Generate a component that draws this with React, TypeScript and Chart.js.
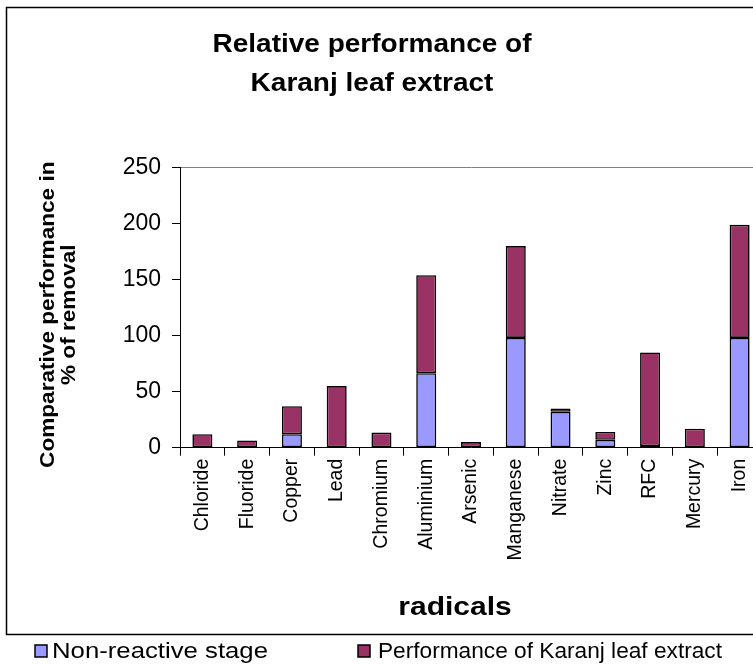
import React, { useEffect, useRef } from 'react';
import { Chart, registerables } from 'chart.js';

Chart.register(...registerables);

const categories = ['Chloride', 'Fluoride', 'Copper', 'Lead', 'Chromium', 'Aluminium', 'Arsenic', 'Manganese', 'Nitrate', 'Zinc', 'RFC', 'Mercury', 'Iron'];
const nonReactive = [0, 0, 12, 0, 0, 66.5, 0, 98, 32, 7, 1.5, 0, 98];
const karanjExtract = [12, 6.5, 25, 55, 13.5, 87.5, 5, 82, 3, 7, 83.5, 17, 101];
const yTicks = [0, 50, 100, 150, 200, 250];
const seriesLabels = ['Non-reactive stage', 'Performance of Karanj leaf extract'];
const seriesColors = ['#9999FF', '#993366'];
const titleLines = ['Relative performance of', 'Karanj leaf extract'];
const yTitleLines = ['Comparative performance in', '% of removal'];
const xTitle = 'radicals';

const FONT = 'Arial, "Liberation Sans", Helvetica, sans-serif';
const CANVAS_W = 800;
const CANVAS_H = 665;

function stretchedText(ctx: CanvasRenderingContext2D, text: string, x: number, y: number, sx: number, rot: number) {
  ctx.save();
  ctx.translate(x, y);
  ctx.rotate(rot);
  ctx.scale(sx, 1);
  ctx.fillText(text, 0, 0);
  ctx.restore();
}

const framePlugin = {
  id: 'frame',
  beforeDraw(chart: any) {
    const ctx = chart.ctx;
    ctx.save();
    ctx.fillStyle = '#fff';
    ctx.fillRect(0, 0, chart.width, chart.height);
    ctx.strokeStyle = '#000';
    ctx.lineWidth = 1.5;
    ctx.beginPath();
    ctx.moveTo(chart.width + 5, 7.5);
    ctx.lineTo(6.5, 7.5);
    ctx.lineTo(6.5, 634.5);
    ctx.lineTo(chart.width + 5, 634.5);
    ctx.stroke();
    ctx.restore();
  },
};

const textPlugin = {
  id: 'texts',
  afterDraw(chart: any) {
    const ctx: CanvasRenderingContext2D = chart.ctx;
    const area = chart.chartArea;
    ctx.save();
    ctx.fillStyle = '#000';
    // chart title
    ctx.font = `bold 25px ${FONT}`;
    ctx.textAlign = 'center';
    ctx.textBaseline = 'alphabetic';
    titleLines.forEach((line, i) => stretchedText(ctx, line, 372, 52 + i * 38.5, 1.12, 0));
    // y axis title
    ctx.font = `bold 20px ${FONT}`;
    ctx.textBaseline = 'middle';
    const yMid = (area.top + area.bottom) / 2 + 7;
    yTitleLines.forEach((line, i) => stretchedText(ctx, line, 48 + i * 21, yMid, 1.13, -Math.PI / 2));
    // x axis title
    ctx.font = `bold 25px ${FONT}`;
    ctx.textBaseline = 'alphabetic';
    stretchedText(ctx, xTitle, 455, 615, 1.2, 0);
    // legend
    const boxX = [35, 358];
    const textX = [52, 378];
    const textW = [216, 344];
    ctx.textAlign = 'left';
    ctx.textBaseline = 'middle';
    ctx.font = `22px ${FONT}`;
    chart.data.datasets.forEach((ds: any, i: number) => {
      const y = 651;
      ctx.fillStyle = ds.backgroundColor;
      ctx.fillRect(boxX[i], y - 6, 12, 12);
      ctx.strokeStyle = '#000';
      ctx.lineWidth = 1.5;
      ctx.strokeRect(boxX[i], y - 6, 12, 12);
      ctx.fillStyle = '#000';
      const natural = ctx.measureText(ds.label).width;
      stretchedText(ctx, ds.label, textX[i], y + 1, textW[i] / natural, 0);
    });
    ctx.restore();
  },
};

export default function App() {
  const canvasRef = useRef<HTMLCanvasElement | null>(null);

  useEffect(() => {
    const canvas = canvasRef.current;
    if (!canvas) return;
    const barStyle = {
      borderColor: '#000',
      borderWidth: 1.6,
      borderSkipped: false,
      barPercentage: 0.447,
      categoryPercentage: 1,
    };
    const chart = new Chart(canvas, {
      type: 'bar',
      data: {
        labels: categories,
        datasets: [
          { label: seriesLabels[0], data: nonReactive, backgroundColor: seriesColors[0], ...barStyle },
          { label: seriesLabels[1], data: karanjExtract, backgroundColor: seriesColors[1], ...barStyle },
        ],
      },
      options: {
        responsive: false,
        animation: false,
        layout: { padding: { left: 0, right: 38, top: 167.7, bottom: 97.3 } },
        plugins: {
          legend: { display: false },
          tooltip: { enabled: false },
          title: { display: false },
        },
        scales: {
          x: {
            stacked: true,
            grid: { offset: true, drawOnChartArea: false, drawTicks: true, tickLength: 8, color: '#000', tickColor: '#000' },
            border: { color: '#000', width: 1 },
            ticks: { autoSkip: false, maxRotation: 90, minRotation: 90, color: '#000', font: { family: FONT, size: 19.5 }, padding: 3 },
            afterFit: (s: any) => { s.height = 120; },
          },
          y: {
            stacked: true,
            min: 0,
            max: 250,
            afterBuildTicks: (s: any) => { s.ticks = yTicks.map((v) => ({ value: v })); },
            ticks: { color: '#000', font: { family: FONT, size: 23 }, padding: 11 },
            grid: {
              color: (c: any) => (c.tick && c.tick.value === 250 ? '#808080' : 'rgba(0,0,0,0)'),
              tickColor: '#000',
              tickLength: 8,
              lineWidth: 1,
            },
            border: { color: '#000', width: 1 },
            afterFit: (s: any) => { s.width = 180; },
          },
        },
      },
      plugins: [framePlugin, textPlugin],
    } as any);
    return () => chart.destroy();
  }, []);

  return (
    <div style={{ position: 'fixed', left: 0, top: 0, width: 753, height: 665, overflow: 'hidden', background: '#fff' }}>
      <canvas
        ref={canvasRef}
        width={CANVAS_W}
        height={CANVAS_H}
        style={{ position: 'absolute', left: 0, top: 0, width: CANVAS_W + 'px', height: CANVAS_H + 'px' }}
      />
    </div>
  );
}
